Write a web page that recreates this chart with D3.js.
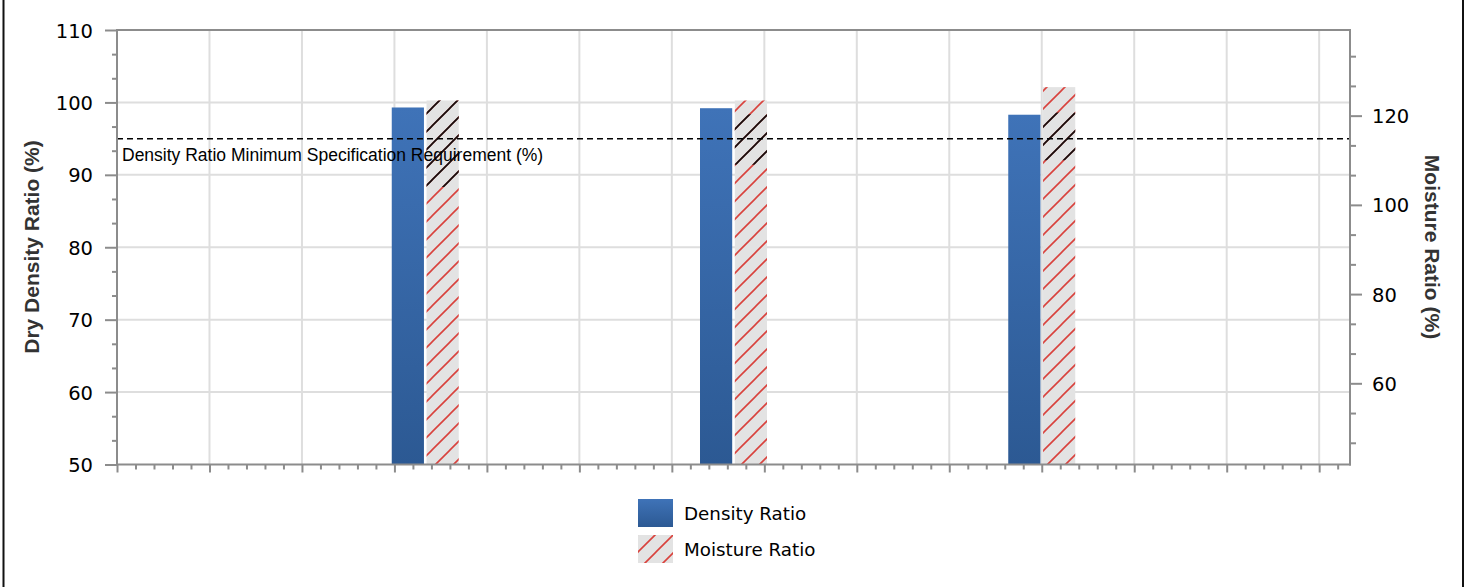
<!DOCTYPE html>
<html>
<head>
<meta charset="utf-8">
<script src="https://cdn.jsdelivr.net/npm/d3@7"></script>
<style>
html,body{margin:0;padding:0;background:#fff;}
svg{display:block;}
</style>
</head>
<body>
<svg id="chart" width="1475" height="587"></svg>
<script>
// ---- data ----
const categories = [10, 20, 30];                 // positions on the (unlabelled) x axis
const densityRatio = [99.3, 99.2, 98.3];          // left axis, %
const moistureRatio = [123.4, 123.4, 126.4];      // right axis, %
const moistureDarkLo = [104.0, 109.0, 110.0];     // dark-hatch band (right axis units)
const moistureDarkHi = [123.4, 120.3, 120.7];
const densitySpec = 95;                           // left axis, %
const specLabel = "Density Ratio Minimum Specification Requirement (%)";
const leftTicks = [50, 60, 70, 80, 90, 100, 110];
const rightTicks = [60, 80, 100, 120];
const seriesNames = ["Density Ratio", "Moisture Ratio"];

// ---- layout ----
const svg = d3.select("#chart");
const L = 117, R = 1350, T = 30, B = 464.5;

const x = d3.scaleLinear().domain([0, 40]).range([L, R]);
const yL = d3.scaleLinear().domain([50, 110]).range([B, T]);
const yR = d3.scaleLinear().domain([41.8, 139.2]).range([B, T]);
const inner = d3.scaleBand().domain(seriesNames).range([-33.5, 33.5]).paddingInner(0.075);

// defs
const defs = svg.append("defs");
const grad = defs.append("linearGradient").attr("id", "blueGrad")
  .attr("x1", 0).attr("y1", 0).attr("x2", 0).attr("y2", 1);
grad.append("stop").attr("offset", "0%").attr("stop-color", "#3f73b8");
grad.append("stop").attr("offset", "100%").attr("stop-color", "#2c5993");

function hatch(id, color, bg) {
  const p = defs.append("pattern").attr("id", id)
    .attr("patternUnits", "userSpaceOnUse").attr("width", 18).attr("height", 18);
  if (bg) p.append("rect").attr("width", 18).attr("height", 18).attr("fill", bg);
  p.append("path").attr("d", "M-2,20 L20,-2 M-2,2 L2,-2 M16,20 L20,16")
    .attr("stroke", color).attr("stroke-width", 1.6).attr("fill", "none");
}
hatch("redHatch", "#d9423d", "#e3e3e3");
hatch("blackHatch", "#111", null);
const lg = defs.append("pattern").attr("id", "legHatch")
  .attr("patternUnits", "userSpaceOnUse").attr("width", 18).attr("height", 18)
  .attr("x", 638).attr("y", 534);
lg.append("rect").attr("width", 18).attr("height", 18).attr("fill", "#e3e3e3");
lg.append("path").attr("d", "M-2,20 L20,-2 M-2,2 L2,-2 M16,20 L20,16")
  .attr("stroke", "#d9423d").attr("stroke-width", 1.6);

// outer frame
svg.append("line").attr("x1", 3.5).attr("x2", 3.5).attr("y1", 0).attr("y2", 587)
  .attr("stroke", "#111").attr("stroke-width", 2);
svg.append("line").attr("x1", 1463).attr("x2", 1463).attr("y1", 0).attr("y2", 587)
  .attr("stroke", "#111").attr("stroke-width", 2);

// gridlines
const xGrid = d3.range(3, 40, 3);
svg.append("g").selectAll("line").data(xGrid).join("line")
  .attr("x1", d => x(d)).attr("x2", d => x(d)).attr("y1", T).attr("y2", B)
  .attr("stroke", "#dedede").attr("stroke-width", 2);
svg.append("g").selectAll("line").data(leftTicks.filter(d => d > 50 && d < 110)).join("line")
  .attr("x1", L).attr("x2", R).attr("y1", d => yL(d)).attr("y2", d => yL(d))
  .attr("stroke", "#dedede").attr("stroke-width", 2);

// plot frame top
svg.append("line").attr("x1", L).attr("x2", R).attr("y1", T).attr("y2", T)
  .attr("stroke", "#8c8c8c").attr("stroke-width", 2);

// bars
const data = categories.map((c, i) => ({
  c, d: densityRatio[i], m: moistureRatio[i], lo: moistureDarkLo[i], hi: moistureDarkHi[i]
}));
const g = svg.append("g");
g.selectAll("rect.den").data(data).join("rect").attr("class", "den")
  .attr("x", d => x(d.c) + inner("Density Ratio"))
  .attr("width", inner.bandwidth())
  .attr("y", d => yL(d.d)).attr("height", d => B - yL(d.d))
  .attr("fill", "url(#blueGrad)");
g.selectAll("rect.moi").data(data).join("rect").attr("class", "moi")
  .attr("x", d => x(d.c) + inner("Moisture Ratio"))
  .attr("width", inner.bandwidth())
  .attr("y", d => yR(d.m)).attr("height", d => B - yR(d.m))
  .attr("fill", "url(#redHatch)");
g.selectAll("rect.moiDark").data(data).join("rect").attr("class", "moiDark")
  .attr("x", d => x(d.c) + inner("Moisture Ratio"))
  .attr("width", inner.bandwidth())
  .attr("y", d => yR(d.hi)).attr("height", d => yR(d.lo) - yR(d.hi))
  .attr("fill", "url(#blackHatch)");

// spec line
svg.append("line").attr("x1", L).attr("x2", R)
  .attr("y1", yL(densitySpec)).attr("y2", yL(densitySpec))
  .attr("stroke", "#000").attr("stroke-width", 1.5).attr("stroke-dasharray", "6,4");
svg.append("text").attr("x", L + 5).attr("y", yL(densitySpec) + 22)
  .attr("font-family", "Liberation Sans, Arial, sans-serif").attr("font-size", 17.5)
  .attr("fill", "#000").text(specLabel);

// axes
const axisColor = "#8c8c8c";
function styleAxis(sel) {
  sel.select(".domain").remove();
  sel.selectAll(".tick line").attr("stroke", axisColor).attr("stroke-width", 2);
  sel.selectAll("text").attr("font-family", "DejaVu Sans, Verdana, sans-serif")
    .attr("font-size", 19.5).attr("fill", "#000");
}
// left
const leftMinor = d3.range(50, 110.01, 10 / 3).filter(v => !leftTicks.some(t => Math.abs(t - v) < 0.01));
const gl = svg.append("g").attr("transform", `translate(${L},0)`)
  .call(d3.axisLeft(yL).tickValues(leftTicks).tickSize(12).tickPadding(12).tickFormat(d3.format("d")));
styleAxis(gl);
gl.selectAll("text").attr("dy", "0.36em");
svg.append("g").attr("transform", `translate(${L},0)`)
  .call(d3.axisLeft(yL).tickValues(leftMinor).tickSize(5).tickFormat(""))
  .call(s => { s.select(".domain").remove(); s.selectAll(".tick line").attr("stroke", axisColor).attr("stroke-width", 2); });
svg.append("line").attr("x1", L).attr("x2", L).attr("y1", T - 1).attr("y2", B + 1)
  .attr("stroke", axisColor).attr("stroke-width", 2);

// right
const rightMinor = d3.range(40, 139.2, 20 / 3).filter(v => v > 41.8 && !rightTicks.some(t => Math.abs(t - v) < 0.01));
const gr = svg.append("g").attr("transform", `translate(${R},0)`)
  .call(d3.axisRight(yR).tickValues(rightTicks).tickSize(12).tickPadding(10).tickFormat(d3.format("d")));
styleAxis(gr);
gr.selectAll("text").attr("dy", "0.36em");
svg.append("g").attr("transform", `translate(${R},0)`)
  .call(d3.axisRight(yR).tickValues(rightMinor).tickSize(6).tickFormat(""))
  .call(s => { s.select(".domain").remove(); s.selectAll(".tick line").attr("stroke", axisColor).attr("stroke-width", 2); });
svg.append("line").attr("x1", R).attr("x2", R).attr("y1", T - 1).attr("y2", B + 1)
  .attr("stroke", axisColor).attr("stroke-width", 2);

// bottom
const xMinor = d3.range(0, 40.01, 0.6).filter(v => Math.abs(v / 3 - Math.round(v / 3)) > 0.01);
svg.append("g").attr("transform", `translate(0,${B})`)
  .call(d3.axisBottom(x).tickValues(d3.range(0, 40, 3)).tickSize(8).tickFormat(""))
  .call(s => { s.select(".domain").remove(); s.selectAll(".tick line").attr("stroke", axisColor).attr("stroke-width", 2); });
svg.append("g").attr("transform", `translate(0,${B})`)
  .call(d3.axisBottom(x).tickValues(xMinor).tickSize(5).tickFormat(""))
  .call(s => { s.select(".domain").remove(); s.selectAll(".tick line").attr("stroke", axisColor).attr("stroke-width", 2); });
svg.append("line").attr("x1", L - 1).attr("x2", R + 1).attr("y1", B).attr("y2", B)
  .attr("stroke", axisColor).attr("stroke-width", 2);

// axis titles
svg.append("text").attr("transform", `translate(39,${247}) rotate(-90)`)
  .attr("text-anchor", "middle")
  .attr("font-family", "Liberation Sans, Arial, sans-serif").attr("font-weight", "bold")
  .attr("font-size", 21).attr("fill", "#333").text("Dry Density Ratio (%)");
svg.append("text").attr("transform", `translate(1425,${247}) rotate(90)`)
  .attr("text-anchor", "middle")
  .attr("font-family", "Liberation Sans, Arial, sans-serif").attr("font-weight", "bold")
  .attr("font-size", 21).attr("fill", "#333").text("Moisture Ratio (%)");

// legend
const leg = svg.append("g");
leg.append("rect").attr("x", 638).attr("y", 499).attr("width", 35).attr("height", 28)
  .attr("fill", "url(#blueGrad)");
leg.append("rect").attr("x", 638).attr("y", 535).attr("width", 35).attr("height", 28)
  .attr("fill", "url(#legHatch)");
leg.selectAll("text").data(seriesNames).join("text")
  .attr("x", 684).attr("y", (d, i) => 520 + i * 36)
  .attr("font-family", "DejaVu Sans, Verdana, sans-serif").attr("font-size", 18.3)
  .attr("fill", "#000").text(d => d);
</script>
</body>
</html>
